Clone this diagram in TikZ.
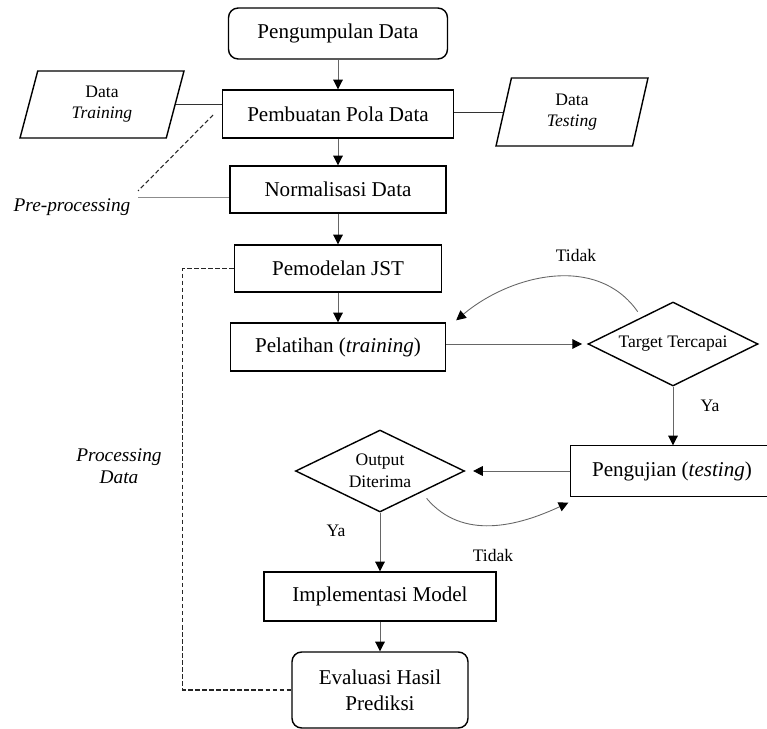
\documentclass[tikz,border=0pt]{standalone}
\usepackage{fontspec}
\setmainfont{Liberation Serif}
\usetikzlibrary{shapes.geometric,arrows.meta}
\tikzstyle{proses}=[rectangle,draw,line width=0.8pt,inner sep=0pt,align=center,font=\fontsize{12}{14.7}\selectfont]
\tikzstyle{terminal}=[proses,rounded corners=5.5pt]
\tikzstyle{keputusan}=[diamond,aspect=2,draw,line width=0.8pt,inner sep=0pt,align=center,font=\fontsize{10}{12.5}\selectfont]
\tikzstyle{datamasuk}=[trapezium,trapezium stretches body,draw,line width=0.8pt,inner sep=0pt,align=center,font=\fontsize{10}{12}\selectfont]
\tikzstyle{panah}=[draw=black!60,line width=0.5pt,-{Triangle[length=5.5pt,width=5.5pt,color=black]}]
\tikzstyle{garis}=[draw=black!80,line width=0.5pt]
\tikzstyle{putus}=[draw=black!85,line width=0.6pt,dash pattern=on 2.5pt off 1.5pt]
\tikzstyle{keterangan}=[inner sep=1pt,font=\fontsize{10}{12}\selectfont]
\tikzstyle{miring}=[inner sep=1pt,align=center,font=\fontsize{11}{12.5}\selectfont\itshape]

\begin{document}
\begin{tikzpicture}[x=0.02cm,y=-0.02cm]
\useasboundingbox (0,0) rectangle (767,729);

\node[terminal,minimum width=4.38cm,minimum height=1.02cm] (kumpul) at (338,33.5) {Pengumpulan Data};
\node[proses,minimum width=4.62cm,minimum height=0.96cm] (pola) at (338,114) {Pembuatan Pola Data};
\node[proses,minimum width=4.32cm,minimum height=0.94cm] (norm) at (338,189.5) {Normalisasi Data};
\node[proses,minimum width=4.14cm,minimum height=0.94cm] (model) at (338,268.5) {Pemodelan JST};
\node[proses,minimum width=4.30cm,minimum height=0.96cm] (latih) at (338,347) {Pelatihan (\textit{training})};
\node[keputusan,minimum width=3.40cm,minimum height=1.68cm] (target) at (673,344) {Target Tercapai};
% kotak pengujian terpotong di tepi kanan
\node[proses,draw=none,minimum width=4.04cm,minimum height=1.00cm] (uji) at (672,471) {Pengujian (\textit{testing})};
\draw[line width=0.8pt] ([xshift=1cm]uji.north east) -- (uji.north west) -- (uji.south west) -- ([xshift=1cm]uji.south east);
\node[keputusan,minimum width=3.38cm,minimum height=1.64cm] (output) at (380,471) {Output\\Diterima};
\node[proses,minimum width=4.64cm,minimum height=0.98cm] (impl) at (380,596.5) {Implementasi Model};
\node[terminal,minimum width=3.52cm,minimum height=1.52cm] (eval) at (380,690) {Evaluasi Hasil\\Prediksi};

\node[datamasuk,trapezium left angle=64,trapezium right angle=116,minimum width=3.28cm,minimum height=1.34cm] (training) at (102,104.5) {Data\\\textit{Training}};
\node[datamasuk,trapezium left angle=67,trapezium right angle=113,minimum width=3.04cm,minimum height=1.36cm] (testing) at (572,112) {Data\\\textit{Testing}};

\node[miring] (preproc) at (72,207) {Pre-processing};
\node[miring] (procdata) at (119,466) {Processing\\Data};

\node[keterangan] (tidak1) at (576,255) {Tidak};
\node[keterangan] (ya1) at (710,406) {Ya};
\node[keterangan] (ya2) at (336,531) {Ya};
\node[keterangan] (tidak2) at (493,555) {Tidak};

\coordinate (pre1) at (213,115);
\coordinate (pre2) at (138,191);
\coordinate (pre3) at (138,197);

\draw[panah] (kumpul) -- (pola);
\draw[panah] (pola) -- (norm);
\draw[panah] (norm) -- (model);
\draw[panah] (model) -- (latih);
\draw[panah,shorten >=3pt] (latih.east |- target.west) -- (target.west);
\draw[panah] (target.south) -- (target.south |- uji.north);
\draw[panah,shorten >=4.5pt] (uji.west |- output.east) -- (output.east);
\draw[panah] (output.south) -- (impl.north);
\draw[panah] (impl) -- (eval);

\draw[panah] ([shift={(7.5,-11)}]target.north west) to[out=125,in=40] ([shift={(10,-2)}]latih.north east);
\draw[panah] ([shift={(4,6.5)}]output.south east) to[out=-50,in=205] ([shift={(-2,6)}]uji.south west);

\draw[garis] (training.east) -- (training.east -| pola.west);
\draw[garis] (pola.east |- testing.west) -- (testing.west);

\draw[putus] (pre1) -- (pre2);
\draw[garis,draw=black!45] (pre3) -- (pre3 -| norm.west);
\draw[putus] (model.west) -- ++(-51,0) |- (eval.west);

\end{tikzpicture}
\end{document}
